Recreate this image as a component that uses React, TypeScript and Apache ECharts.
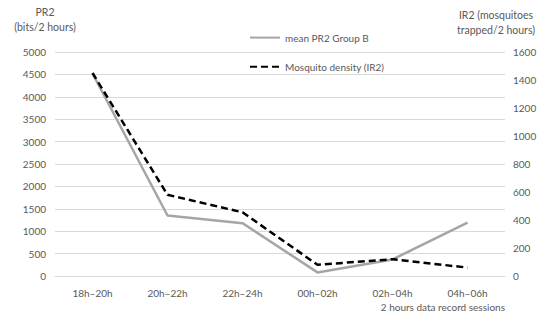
import React, { useEffect, useRef } from "react";
import * as echarts from "echarts";

const categories = ["18h–20h", "20h–22h", "22h–24h", "00h–02h", "02h–04h", "04h–06h"];
const meanPR2GroupB = [4520, 1350, 1180, 80, 370, 1190];
const mosquitoDensity = [1450, 580, 455, 80, 120, 60];
const leftAxisName = ["PR2", "(bits/2 hours)"];
const rightAxisName = ["IR2 (mosquitoes", "trapped/2 hours)"];
const xAxisName = "2 hours data record sessions";

const FONT = "Lato, 'Open Sans', sans-serif";
const TEXT = "#595959";

export default function App() {
  const ref = useRef<HTMLDivElement>(null);
  useEffect(() => {
    document.body.style.margin = "0";
    if (!ref.current) return;
    const chart = echarts.init(ref.current, null, { renderer: "svg" });
    chart.setOption({
      animation: false,
      backgroundColor: "#ffffff",
      textStyle: { fontFamily: FONT, color: TEXT },
      grid: { left: 55, right: 45, top: 52, bottom: 46 },
      legend: {
        orient: "vertical",
        left: 244,
        top: 27,
        itemWidth: 30,
        itemHeight: 14,
        itemGap: 18,
        itemStyle: { opacity: 0 },
        textStyle: { fontFamily: FONT, fontSize: 10, color: TEXT },
        data: ["mean PR2 Group B", "Mosquito density (IR2)"],
      },
      xAxis: {
        type: "category",
        data: categories,
        boundaryGap: true,
        axisLine: { show: true, lineStyle: { color: "#d9d9d9", width: 1 } },
        axisTick: { show: false },
        axisLabel: { fontFamily: FONT, fontSize: 10, color: TEXT, margin: 12 },
      },
      yAxis: [
        {
          type: "value",
          min: 0,
          max: 5000,
          interval: 500,
          axisLine: { show: false },
          axisTick: { show: false },
          axisLabel: {
            fontFamily: FONT,
            fontSize: 10,
            color: TEXT,
            margin: 9,
            formatter: (v: number) => String(v),
          },
          splitLine: { lineStyle: { color: "#d9d9d9", width: 1 } },
        },
        {
          type: "value",
          min: 0,
          max: 1600,
          interval: 200,
          position: "right",
          axisLine: { show: false },
          axisTick: { show: false },
          axisLabel: {
            fontFamily: FONT,
            fontSize: 10,
            color: TEXT,
            margin: 8,
            formatter: (v: number) => String(v),
          },
          splitLine: { show: false },
        },
      ],
      series: [
        {
          name: "mean PR2 Group B",
          type: "line",
          yAxisIndex: 0,
          data: meanPR2GroupB,
          symbol: "none",
          lineStyle: { color: "#a5a5a5", width: 2.5 },
          itemStyle: { color: "#a5a5a5" },
          z: 2,
        },
        {
          name: "Mosquito density (IR2)",
          type: "line",
          yAxisIndex: 1,
          data: mosquitoDensity,
          symbol: "none",
          lineStyle: { color: "#000000", width: 2.5, type: [7, 4] },
          itemStyle: { color: "#000000" },
          z: 3,
        },
      ],
      graphic: [
        {
          type: "text",
          style: {
            x: 45,
            y: 4,
            text: leftAxisName.join("\n"),
            align: "center",
            lineHeight: 15,
            font: `10.5px ${FONT}`,
            fill: TEXT,
          },
        },
        {
          type: "text",
          style: {
            x: 496,
            y: 7,
            text: rightAxisName.join("\n"),
            align: "center",
            lineHeight: 15,
            font: `10.5px ${FONT}`,
            fill: TEXT,
          },
        },
        {
          type: "text",
          style: {
            x: 505,
            y: 302,
            text: xAxisName,
            align: "right",
            font: `10px ${FONT}`,
            fill: TEXT,
          },
        },
      ],
    });
    return () => chart.dispose();
  }, []);
  return <div ref={ref} style={{ width: 550, height: 322 }} />;
}
